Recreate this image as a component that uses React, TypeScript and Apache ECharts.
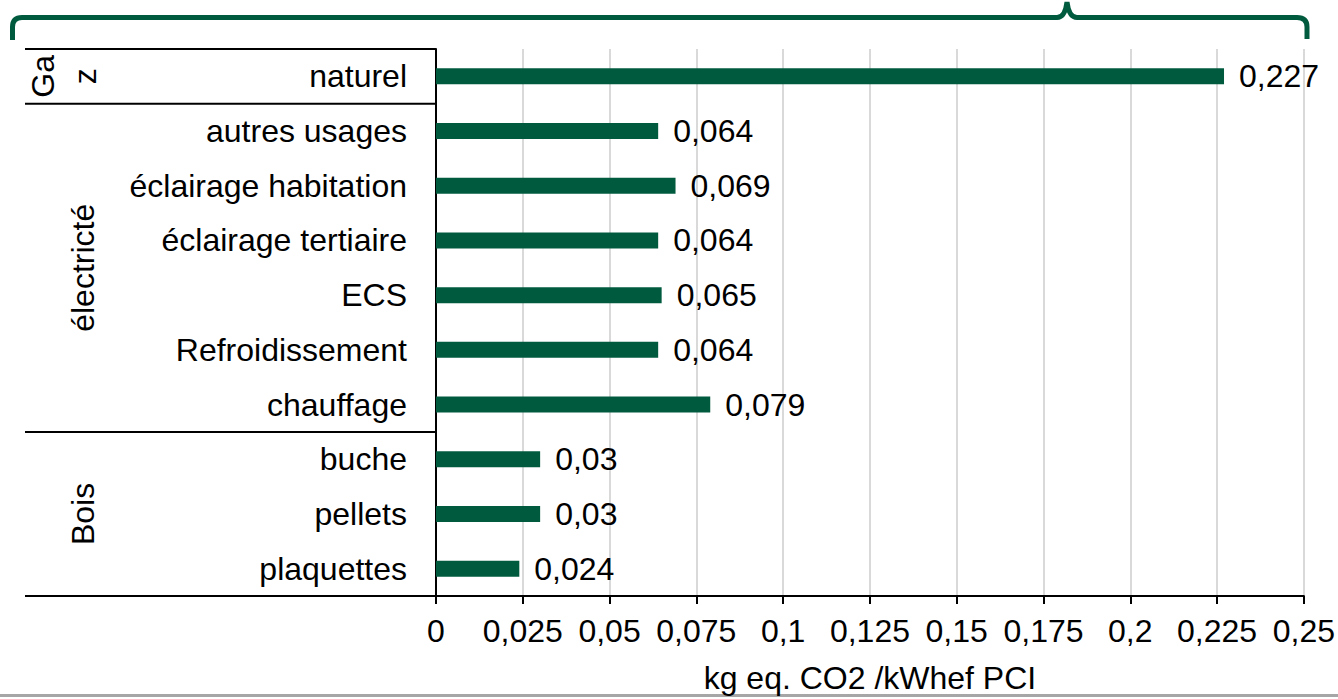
import React, { useEffect, useRef } from "react";
import * as echarts from "echarts";

// Emission factors per energy use (kg eq. CO2 / kWhef PCI)
const categories = [
  "naturel",
  "autres usages",
  "éclairage habitation",
  "éclairage tertiaire",
  "ECS",
  "Refroidissement",
  "chauffage",
  "buche",
  "pellets",
  "plaquettes",
];
const values = [0.227, 0.064, 0.069, 0.064, 0.065, 0.064, 0.079, 0.03, 0.03, 0.024];

// Energy families grouping consecutive categories
const groupNames = ["Ga\nz", "électricté", "Bois"];
const groupSizes = [1, 6, 3];

const xMin = 0;
const xMax = 0.25;
const xStep = 0.025;
const axisTitle = "kg eq. CO2 /kWhef PCI";

const GREEN = "#005a3e";
const FONT = 'Arial, "Liberation Sans", sans-serif';
const FS = 32;

const fmt = (v: number) => parseFloat(v.toFixed(3)).toString().replace(".", ",");

let braceRegistered = false;
function registerBrace() {
  if (braceRegistered) return;
  const d =
    "M 12.5 40 L 12.5 27 Q 12.5 17.5 22 17.5 L 1057 17.5 Q 1065 17.5 1067 2 Q 1069 17.5 1077 17.5 L 1297 17.5 Q 1307 17.5 1307 27 L 1307 39";
  echarts.graphic.registerShape("brace", echarts.graphic.extendPath(d, {}));
  braceRegistered = true;
}

export default function App() {
  const ref = useRef<HTMLDivElement>(null);

  useEffect(() => {
    if (!ref.current) return;
    registerBrace();
    const chart = echarts.init(ref.current, undefined, { renderer: "svg" });

    const gridLeft = 436;
    const gridTop = 49;
    const gridRight = 29;
    const gridBottom = 101;

    chart.setOption({
      animation: false,
      backgroundColor: "#ffffff",
      textStyle: { fontFamily: FONT },
      grid: { left: gridLeft, top: gridTop, right: gridRight, bottom: gridBottom, containLabel: false },
      xAxis: {
        type: "value",
        min: xMin,
        max: xMax,
        interval: xStep,
        name: axisTitle,
        nameLocation: "middle",
        nameGap: 66,
        nameTextStyle: { fontSize: FS, color: "#000", fontFamily: FONT },
        axisLine: { show: true, lineStyle: { color: "#000", width: 2 } },
        axisTick: { show: true, length: 8, lineStyle: { color: "#000", width: 2 } },
        axisLabel: {
          fontSize: FS,
          color: "#000",
          fontFamily: FONT,
          margin: 19,
          formatter: (v: number) => fmt(v),
        },
        splitLine: { show: true, lineStyle: { color: "#d9d9d9", width: 2 } },
      },
      yAxis: {
        type: "category",
        data: categories,
        inverse: true,
        axisLine: { show: true, lineStyle: { color: "#000", width: 2 } },
        axisTick: { show: false },
        axisLabel: { fontSize: FS, color: "#000", fontFamily: FONT, margin: 29 },
        splitLine: { show: false },
      },
      series: [
        {
          type: "bar",
          data: values,
          barWidth: 16,
          itemStyle: { color: GREEN },
          label: {
            show: true,
            position: "right",
            distance: 15,
            fontSize: FS,
            color: "#000",
            fontFamily: FONT,
            formatter: (p: any) => fmt(p.value),
          },
        },
      ],
    });

    // Group separators and rotated family labels on the left of the category axis
    const centers = categories.map((_, i) => chart.convertToPixel({ yAxisIndex: 0 }, i) as number);
    const band = centers.length > 1 ? centers[1] - centers[0] : 0;
    const lineX0 = 25;
    const graphics: any[] = [];
    let start = 0;
    const boundaries: number[] = [centers[0] - band / 2];
    groupSizes.forEach((size, gi) => {
      const end = start + size - 1;
      const yTop = centers[start] - band / 2;
      const yBot = centers[end] + band / 2;
      boundaries.push(yBot);
      const isMulti = groupNames[gi].includes("\n");
      graphics.push({
        type: "text",
        x: isMulti ? 64 : 83,
        y: (yTop + yBot) / 2,
        rotation: Math.PI / 2,
        style: {
          text: groupNames[gi],
          fontSize: FS,
          fontFamily: FONT,
          fill: "#000",
          align: "center",
          verticalAlign: "middle",
          lineHeight: 42,
        },
      });
      start = end + 1;
    });
    boundaries.forEach((y) => {
      graphics.push({
        type: "line",
        shape: { x1: lineX0, y1: y, x2: gridLeft, y2: y },
        style: { stroke: "#000", lineWidth: 2 },
      });
    });

    // Brace over the chart
    graphics.push({
      type: "brace",
      x: 0,
      y: 0,
      scaleX: 1,
      scaleY: 1,
      style: { fill: "none", stroke: GREEN, lineWidth: 5 },
    });

    // Bottom frame line
    graphics.push({
      type: "rect",
      shape: { x: 0, y: 694, width: 1338, height: 3 },
      style: { fill: "#a6a6a6" },
    });

    chart.setOption({ graphic: graphics });

    return () => chart.dispose();
  }, []);

  return (
    <div
      ref={ref}
      style={{ position: "fixed", left: 0, top: 0, width: 1338, height: 699, background: "#fff" }}
    />
  );
}
